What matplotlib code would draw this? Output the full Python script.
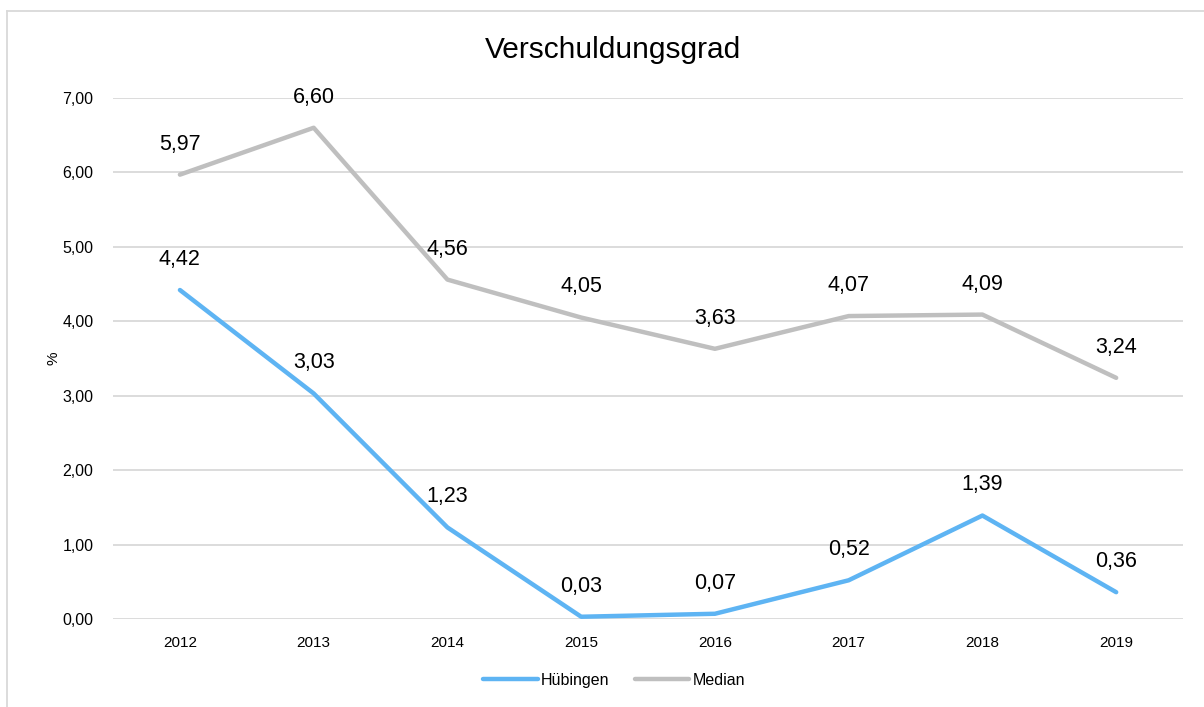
import matplotlib.pyplot as plt
from matplotlib.lines import Line2D

plt.rcParams['font.family'] = ['Liberation Sans', 'DejaVu Sans']

years = ['2012', '2013', '2014', '2015', '2016', '2017', '2018', '2019']
huebingen = [4.42, 3.03, 1.23, 0.03, 0.07, 0.52, 1.39, 0.36]
median = [5.97, 6.60, 4.56, 4.05, 3.63, 4.07, 4.09, 3.24]
yticks = [0, 1, 2, 3, 4, 5, 6, 7]

blue = '#5EB4F3'
grey = '#BFBFBF'

fig = plt.figure(figsize=(12.04, 7.07), dpi=100)
ax = fig.add_axes([0.0939, 0.1245, 0.8887, 0.7369])

x = list(range(len(years)))
ax.plot(x, huebingen, color=blue, lw=3.2, solid_capstyle='round', solid_joinstyle='round', zorder=3)
ax.plot(x, median, color=grey, lw=3.2, solid_capstyle='round', solid_joinstyle='round', zorder=3)

def fmt(v):
    return f'{v:.2f}'.replace('.', ',')

for xi, v in zip(x, huebingen):
    ax.annotate(fmt(v), (xi, v), xytext=(0, 22), textcoords='offset points',
                ha='center', va='center', fontsize=15.5, color='black')
for xi, v in zip(x, median):
    ax.annotate(fmt(v), (xi, v), xytext=(0, 22), textcoords='offset points',
                ha='center', va='center', fontsize=15.5, color='black')

ax.set_xlim(-0.5, 7.5)
ax.set_ylim(0, 7)
ax.set_xticks(x)
ax.set_xticklabels(years, fontsize=11)
ax.set_yticks(yticks)
ax.set_yticklabels([fmt(v) for v in yticks], fontsize=11.5)
ax.tick_params(length=0, pad=12)
ax.tick_params(axis='y', pad=14)
for s in ax.spines.values():
    s.set_visible(False)
ax.grid(axis='y', color='#D9D9D9', lw=1.3)
ax.set_axisbelow(True)
ax.set_ylabel('%', fontsize=11)
ax.yaxis.set_label_coords(-0.049, 0.5)

fig.text(0.509, 0.929, 'Verschuldungsgrad', ha='center', va='center', fontsize=21.5)

handles = [Line2D([], [], color=blue, lw=3.2, solid_capstyle='round'),
           Line2D([], [], color=grey, lw=3.2, solid_capstyle='round')]
fig.legend(handles, ['Hübingen', 'Median'], loc='center', bbox_to_anchor=(0.51, 0.038),
           ncol=2, frameon=False, fontsize=11.5, handlelength=3.4, handletextpad=0.2,
           columnspacing=1.6)

# outer chart frame (top and left edges visible)
fig.add_artist(Line2D([0.006, 1], [0.985, 0.985], color='#D9D9D9', lw=1.3, transform=fig.transFigure))
fig.add_artist(Line2D([0.006, 0.006], [0, 0.985], color='#D9D9D9', lw=1.3, transform=fig.transFigure))

fig.savefig('out.png', dpi=100)
